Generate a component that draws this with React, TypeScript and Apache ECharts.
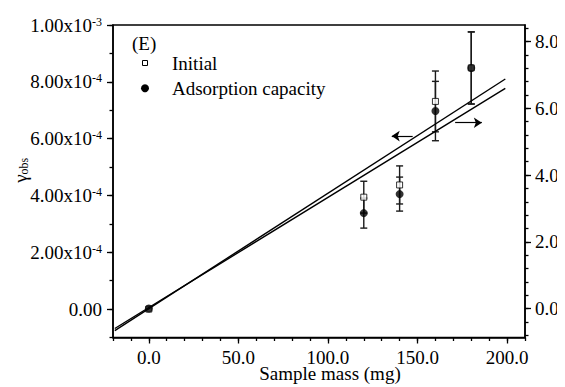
import React, { useEffect, useRef } from 'react';
import * as echarts from 'echarts';

// ---- data ----
const sampleMass = [0, 120, 140, 160, 180];
const initialValues = [0, 3.94e-4, 4.37e-4, 7.31e-4, 8.49e-4];
const initialErrors = [0, 0.56e-4, 0.67e-4, 1.07e-4, 1.27e-4];
const adsorptionValues = [0, 2.86, 3.43, 5.92, 7.21];
const adsorptionErrors = [0, 0.45, 0.51, 0.89, 1.08];

const initialFitX = [-19, 199];
const initialFitY = [-0.757e-4, 8.1e-4];
const adsorptionFitX = [-19, 199];
const adsorptionFitY = [-0.6, 6.6];

const leftArrowX = [147.3, 135.6];
const leftArrowY = 6.09e-4;
const rightArrowX = [171, 185.9];
const rightArrowY = 5.57;

// ---- ticks ----
const xMajorTicks = [0, 50, 100, 150, 200];
const xTickLabels = ['0.0', '50.0', '100.0', '150.0', '200.0'];
const xMinorTicks = [-20, -10, 0, 10, 20, 30, 40, 50, 60, 70, 80, 90, 100, 110, 120, 130, 140, 150, 160, 170, 180, 190, 200, 210];

const leftMajorTicks = [0, 2e-4, 4e-4, 6e-4, 8e-4, 1e-3];
const leftTickLabels = ['0.00', '{b|2.00x10}{s|-4}', '{b|4.00x10}{s|-4}', '{b|6.00x10}{s|-4}', '{b|8.00x10}{s|-4}', '{b|1.00x10}{s|-3}'];
const leftMinorTicks = [-1e-4, 0, 1e-4, 2e-4, 3e-4, 4e-4, 5e-4, 6e-4, 7e-4, 8e-4, 9e-4, 1e-3];

const rightMajorTicks = [0, 2, 4, 6, 8];
const rightTickLabels = ['0.0', '2.0x', '4.0x', '6.0x', '8.0x'];
const rightMinorTicks = [-0.8, -0.4, 0, 0.4, 0.8, 1.2, 1.6, 2, 2.4, 2.8, 3.2, 3.6, 4, 4.4, 4.8, 5.2, 5.6, 6, 6.4, 6.8, 7.2, 7.6, 8, 8.4];

const FONT = 'Liberation Serif';

function pickLabel(ticks: number[], labels: string[], v: number) {
  const scale = Math.max(...ticks.map((t) => Math.abs(t))) || 1;
  const i = ticks.findIndex((t) => Math.abs(t - v) < scale * 1e-6);
  return i >= 0 ? labels[i] : '';
}

const errRender = (params: any, api: any) => {
  const x = api.value(0);
  const lo = api.value(1);
  const hi = api.value(2);
  const a = api.coord([x, lo]);
  const b = api.coord([x, hi]);
  const w = 3.5;
  const style = { stroke: '#1a1a1a', lineWidth: 1.4 };
  return {
    type: 'group',
    children: [
      { type: 'line', shape: { x1: a[0], y1: a[1], x2: b[0], y2: b[1] }, style },
      { type: 'line', shape: { x1: a[0] - w, y1: a[1], x2: a[0] + w, y2: a[1] }, style },
      { type: 'line', shape: { x1: b[0] - w, y1: b[1], x2: b[0] + w, y2: b[1] }, style },
    ],
  };
};

export default function App() {
  const ref = useRef<HTMLDivElement>(null);
  useEffect(() => {
    if (!ref.current) return;
    const chart = echarts.init(ref.current, null, { renderer: 'svg' });

    const axisLineStyle = { color: '#000', width: 1.5 };
    const majorTick = (vals: number[]) => ({ show: true, inside: false, length: 6, customValues: vals, lineStyle: { color: '#000', width: 1.3 } });
    const minorTick = (vals: number[]) => ({ show: true, inside: false, length: 3.5, customValues: vals, lineStyle: { color: '#000', width: 1.3 } });
    const labelBase = { color: '#000', fontFamily: FONT, fontSize: 19 };

    const initialErrData = sampleMass
      .map((x, i) => [x, initialValues[i] - initialErrors[i], initialValues[i] + initialErrors[i], initialErrors[i]])
      .filter((d) => d[3] > 0);
    const adsErrData = sampleMass
      .map((x, i) => [x, adsorptionValues[i] - adsorptionErrors[i], adsorptionValues[i] + adsorptionErrors[i], adsorptionErrors[i]])
      .filter((d) => d[3] > 0);

    const option: any = {
      animation: false,
      textStyle: { fontFamily: FONT, color: '#000' },
      grid: {
        left: 105, right: 40, top: 17, bottom: 49.5, containLabel: false, outerBoundsMode: 'none',
        show: true, borderColor: '#000', borderWidth: 1.5, backgroundColor: 'transparent',
      },
      xAxis: [
        {
          type: 'value', min: -20, max: 210, position: 'bottom',
          axisLine: { show: true, onZero: false, lineStyle: axisLineStyle },
          splitLine: { show: false },
          axisTick: majorTick(xMajorTicks),
          axisLabel: { ...labelBase, lineHeight: 13, margin: 13, customValues: xMajorTicks, formatter: (v: number) => pickLabel(xMajorTicks, xTickLabels, v) },
          name: 'Sample mass (mg)', nameLocation: 'middle', nameGap: 29, nameMoveOverlap: false,
          nameTextStyle: { color: '#000', fontFamily: FONT, fontSize: 19, lineHeight: 13, padding: [0, 0, 0, 22] },
        },
        {
          type: 'value', min: -20, max: 210, position: 'bottom',
          axisLine: { show: false, onZero: false },
          splitLine: { show: false },
          axisTick: minorTick(xMinorTicks),
          axisLabel: { show: false },
        },
      ],
      yAxis: [
        {
          type: 'value', min: -1e-4, max: 1e-3, position: 'left',
          axisLine: { show: true, onZero: false, lineStyle: axisLineStyle },
          splitLine: { show: false },
          axisTick: majorTick(leftMajorTicks),
          axisLabel: {
            ...labelBase, margin: 11, customValues: leftMajorTicks,
            formatter: (v: number) => pickLabel(leftMajorTicks, leftTickLabels, v),
            rich: {
              b: { fontFamily: FONT, fontSize: 19, lineHeight: 19, padding: [7, 0, 0, 0], verticalAlign: 'bottom', color: '#000' },
              s: { fontFamily: FONT, fontSize: 12, lineHeight: 12, verticalAlign: 'top', color: '#000' },
            },
          },
          name: '{g|γ}{o|obs}', nameLocation: 'middle', nameGap: 83, nameRotate: 90, nameMoveOverlap: false,
          nameTextStyle: {
            fontFamily: FONT, fontSize: 19, color: '#000',
            padding: [0, 0, 0, 22],
            rich: {
              g: { fontFamily: FONT, fontSize: 19, lineHeight: 19, verticalAlign: 'top', color: '#000' },
              o: { fontFamily: FONT, fontSize: 12, lineHeight: 12, padding: [9, 0, 0, 0], verticalAlign: 'bottom', color: '#000' },
            },
          },
        },
        {
          type: 'value', min: -1e-4, max: 1e-3, position: 'left',
          axisLine: { show: false, onZero: false },
          splitLine: { show: false },
          axisTick: minorTick(leftMinorTicks),
          axisLabel: { show: false },
        },
        {
          type: 'value', min: -0.87, max: 8.5, position: 'right',
          axisLine: { show: true, onZero: false, lineStyle: axisLineStyle },
          splitLine: { show: false },
          axisTick: majorTick(rightMajorTicks),
          axisLabel: { ...labelBase, margin: 10, customValues: rightMajorTicks, formatter: (v: number) => pickLabel(rightMajorTicks, rightTickLabels, v) },
        },
        {
          type: 'value', min: -0.87, max: 8.5, position: 'right',
          axisLine: { show: false, onZero: false },
          splitLine: { show: false },
          axisTick: minorTick(rightMinorTicks),
          axisLabel: { show: false },
        },
      ],
      series: [
        {
          name: 'Initial fit', type: 'line', xAxisIndex: 0, yAxisIndex: 0, symbol: 'none', silent: true,
          data: initialFitX.map((x, i) => [x, initialFitY[i]]),
          lineStyle: { color: '#000', width: 1.4 },
          markLine: {
            silent: true, symbol: ['none', 'arrow'], symbolSize: 8, label: { show: false },
            lineStyle: { color: '#000', width: 1.2, type: 'solid' },
            emphasis: { disabled: true },
            data: [[{ coord: [leftArrowX[0], leftArrowY] }, { coord: [leftArrowX[1], leftArrowY] }]],
          },
        },
        {
          name: 'Adsorption fit', type: 'line', xAxisIndex: 0, yAxisIndex: 2, symbol: 'none', silent: true,
          data: adsorptionFitX.map((x, i) => [x, adsorptionFitY[i]]),
          lineStyle: { color: '#000', width: 1.4 },
          markLine: {
            silent: true, symbol: ['none', 'arrow'], symbolSize: 8, label: { show: false },
            lineStyle: { color: '#000', width: 1.2, type: 'solid' },
            emphasis: { disabled: true },
            data: [[{ coord: [rightArrowX[0], rightArrowY] }, { coord: [rightArrowX[1], rightArrowY] }]],
          },
        },
        {
          name: 'Initial error', type: 'custom', xAxisIndex: 0, yAxisIndex: 0, silent: true,
          renderItem: errRender, encode: { x: 0, y: [1, 2] }, data: initialErrData,
        },
        {
          name: 'Adsorption error', type: 'custom', xAxisIndex: 0, yAxisIndex: 2, silent: true,
          renderItem: errRender, encode: { x: 0, y: [1, 2] }, data: adsErrData,
        },
        {
          name: 'Initial', type: 'scatter', xAxisIndex: 0, yAxisIndex: 0, symbol: 'rect', symbolSize: 6,
          data: sampleMass.map((x, i) => [x, initialValues[i]]),
          itemStyle: { color: '#fff', borderColor: '#000', borderWidth: 1 },
        },
        {
          name: 'Adsorption capacity', type: 'scatter', xAxisIndex: 0, yAxisIndex: 2, symbol: 'circle', symbolSize: 8,
          data: sampleMass.map((x, i) => [x, adsorptionValues[i]]),
          itemStyle: { color: '#000' },
        },
      ],
      graphic: [
        { type: 'text', x: 124, y: 35, style: { text: '(E)', fill: '#000', font: `19px "${FONT}"`, verticalAlign: 'middle' } },
        { type: 'rect', shape: { x: 134.5, y: 52.5, width: 5, height: 5 }, style: { fill: '#fff', stroke: '#000', lineWidth: 1 } },
        { type: 'text', x: 164, y: 55, style: { text: 'Initial', fill: '#000', font: `19px "${FONT}"`, verticalAlign: 'middle' } },
        { type: 'circle', shape: { cx: 137, cy: 80.3, r: 4 }, style: { fill: '#000' } },
        { type: 'text', x: 164, y: 80, style: { text: 'Adsorption capacity', fill: '#000', font: `19px "${FONT}"`, verticalAlign: 'middle' } },
      ],
    };
    chart.setOption(option);
    return () => chart.dispose();
  }, []);
  return <div ref={ref} style={{ width: 557, height: 379 }} />;
}
